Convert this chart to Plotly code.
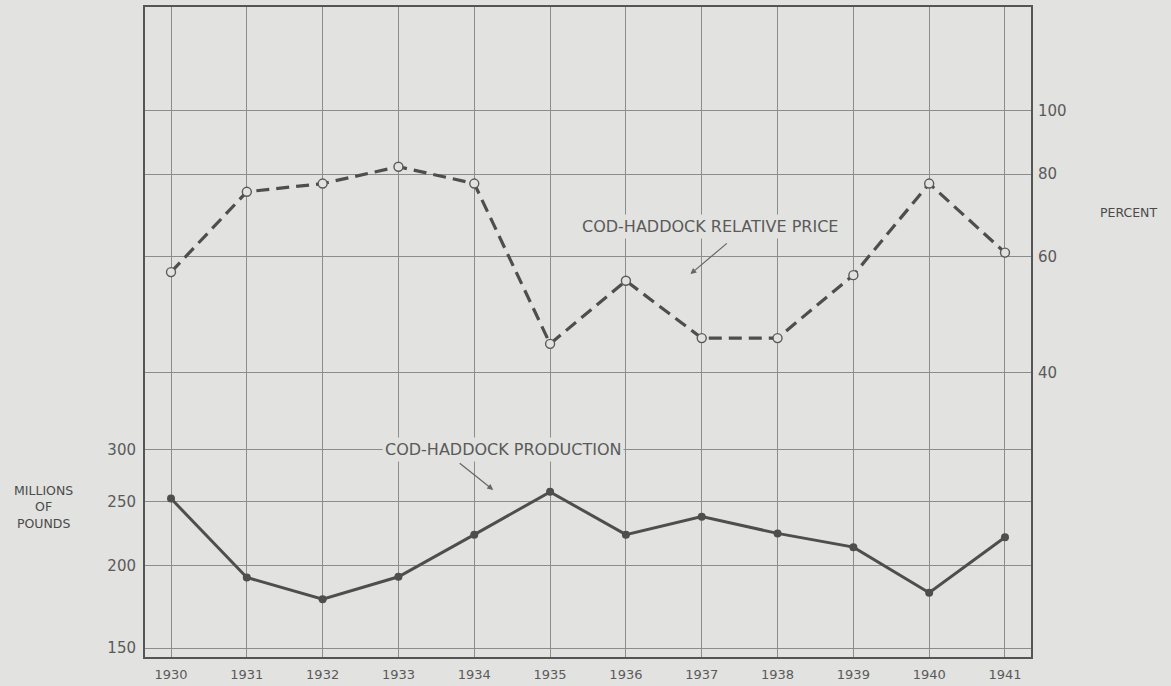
import math
import plotly.graph_objects as go

years = [1930, 1931, 1932, 1933, 1934, 1935, 1936, 1937, 1938, 1939, 1940, 1941]
production = [253, 192, 178, 192.5, 223, 259, 223, 237.5, 224, 213.5, 182, 221]
relative_price = [56.8, 75.2, 77.4, 82.1, 77.4, 44.2, 55.1, 45.1, 45.1, 56.2, 77.4, 60.8]
left_ticks = [150, 200, 250, 300]
right_ticks = [40, 60, 80, 100]

BG = "#e2e2e0"
GRID = "#8c8c8c"
INK = "#4e4e4e"
TXT = "#5a5a5a"
FONT = "DejaVu Sans"

L = math.log10

fig = go.Figure()

fig.add_trace(go.Scatter(
    x=years, y=production, mode="lines+markers", yaxis="y",
    line=dict(color=INK, width=3),
    marker=dict(color=INK, size=8, symbol="circle"),
    showlegend=False, hoverinfo="skip"))

fig.add_trace(go.Scatter(
    x=years, y=relative_price, mode="lines+markers", yaxis="y2",
    line=dict(color=INK, width=3.2, dash="13px,7px"),
    marker=dict(color=BG, size=9, symbol="circle", line=dict(color="#5a5a5a", width=1.4)),
    showlegend=False, hoverinfo="skip"))

tickfont = dict(family=FONT, size=15, color=TXT)

fig.update_layout(
    width=1171, height=686,
    margin=dict(l=145, r=140, t=7, b=29, autoexpand=False),
    paper_bgcolor=BG, plot_bgcolor=BG,
    xaxis=dict(range=[1929.657, 1941.343], tickvals=years, ticktext=[str(y) for y in years],
               showgrid=True, gridcolor=GRID, gridwidth=1, zeroline=False,
               showline=True, mirror=True, linecolor="#555555", linewidth=2,
               ticks="", tickfont=dict(family=FONT, size=13, color=TXT), ticklabelstandoff=4),
    yaxis=dict(type="log", range=[2.1626, 3.1494], tickvals=left_ticks,
               ticktext=[str(v) for v in left_ticks],
               showgrid=True, gridcolor=GRID, gridwidth=1, zeroline=False,
               showline=True, mirror=True, linecolor="#555555", linewidth=2,
               ticks="", tickfont=tickfont, ticklabelstandoff=4),
    yaxis2=dict(type="log", range=[1.1700, 2.1568], overlaying="y", side="right",
                tickvals=right_ticks, ticktext=[str(v) for v in right_ticks],
                showgrid=True, gridcolor=GRID, gridwidth=1, zeroline=False,
                showline=False, ticks="", tickfont=tickfont, ticklabelstandoff=6),
)

ann_font = dict(family=FONT, size=16, color=TXT)

# Series labels (log axes -> annotation coordinates in log10)
fig.add_annotation(x=1937.104, y=L(66.7), yref="y2", xref="x", text="COD-HADDOCK RELATIVE PRICE",
                   showarrow=False, font=ann_font, bgcolor=BG, borderpad=2,
                   xanchor="center", yanchor="middle")
fig.add_annotation(x=1934.373, y=L(300), yref="y", xref="x", text="COD-HADDOCK PRODUCTION",
                   showarrow=False, font=ann_font, bgcolor=BG, borderpad=2,
                   xanchor="center", yanchor="middle")

# Arrows
fig.add_annotation(x=1936.85, y=L(56.4), yref="y2", xref="x", text="", showarrow=True,
                   ax=38, ay=-32, arrowhead=2, arrowsize=1, arrowwidth=1.2, arrowcolor="#666666")
fig.add_annotation(x=1934.25, y=L(260.7), yref="y", xref="x", text="", showarrow=True,
                   ax=-35, ay=-28, arrowhead=2, arrowsize=1, arrowwidth=1.2, arrowcolor="#666666")

# Axis titles
fig.add_annotation(x=-0.114, y=0.2308, xref="paper", yref="paper",
                   text="MILLIONS<br>OF<br>POUNDS", showarrow=False,
                   xanchor="center", yanchor="middle",
                   font=dict(family=FONT, size=12.5, color="#4a4a4a"), align="center")
fig.add_annotation(x=1.1095, y=0.6846, xref="paper", yref="paper",
                   text="PERCENT", showarrow=False,
                   xanchor="center", yanchor="middle",
                   font=dict(family=FONT, size=12.5, color="#4a4a4a"), align="center")

fig.write_html("out.html", config={"displayModeBar": False}, post_script=(
    "document.body.style.margin='0';document.body.style.padding='0';"
    "document.body.style.background='" + BG + "';"
    "document.documentElement.style.background='" + BG + "';"))
